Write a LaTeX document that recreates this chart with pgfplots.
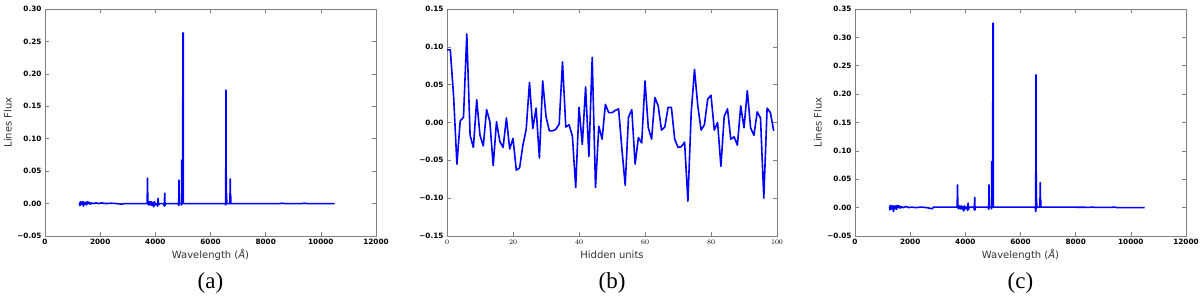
\documentclass[border=0pt]{standalone}
\usepackage{fontspec}
\setmainfont{DejaVu Sans}
\newfontfamily\capfont{Liberation Serif}
\usepackage{pgfplots}
\usepackage{pgfplotstable}
\pgfplotsset{compat=1.18}

\pgfplotsset{
  panel/.style={
    scale only axis, height=227pt,
    clip mode=individual,
    scaled ticks=false,
    axis line style={black!50, line width=0.8pt},
    tick style={black!50, line width=0.6pt},
    major tick length=4pt,
    tick align=inside,
    ticklabel style={font=\fontsize{7.3}{8}\selectfont\bfseries},
    label style={font=\fontsize{10}{12}\selectfont, text=black!80},
    xlabel style={at={(axis description cs:0.5,-0.084)}, anchor=center},
    ylabel style={at={(axis description cs:-0.112,0.5)}, anchor=center},
    every axis plot/.append style={blue, line width=1.6pt, line join=round, no marks},
  },
  spec/.style={
    panel, width=331pt,
    xmin=0, xmax=12000,
    xtick={0,2000,4000,6000,8000,10000,12000},
    xticklabels={0,2000,4000,6000,8000,10000,12000},
    xlabel={Wavelength ({\itshape Å})},
    ylabel={Lines Flux},
  },
}

% panel (a): emission line spectrum
\pgfplotstableread{
x y
1250 0.001
1265 -0.003
1280 0.003
1300 -0.002
1320 0.002
1345 -0.001
1370 0.003
1395 -0.004
1420 0.002
1450 -0.001
1480 0.002
1510 -0.002
1540 0.003
1570 0.000
1600 0.002
1640 -0.001
1680 0.001
1750 0.000
1850 0.001
1950 0.000
2050 0.001
2200 0.000
2400 0.0005
2600 0.000
2800 -0.001
2850 0.000
3300 0.000
3705 0.000
3715 0.039
3730 0.000
3760 -0.002
3790 0.003
3820 -0.002
3850 0.003
3880 -0.003
3910 0.002
3945 -0.005
3970 0.003
4000 -0.002
4050 0.000
4085 -0.004
4100 0.008
4115 -0.002
4150 0.000
4310 0.000
4325 -0.004
4340 0.016
4352 -0.003
4370 0.000
4830 0.000
4848 -0.003
4858 0.036
4870 0.000
4940 0.000
4950 -0.002
4958 0.067
4968 0.000
4992 0.000
4998 0.263
5012 0.263
5018 0.000
6530 0.000
6552 -0.002
6560 0.175
6572 0.000
6580 0.016
6592 0.000
6705 0.000
6714 0.038
6724 0.000
6730 0.015
6740 0.000
7500 0.000
8500 0.000
8600 0.0005
8700 0.000
9300 0.000
9400 0.0005
9500 0.000
10500 0.000
}\specA

% panel (c): emission line spectrum
\pgfplotstableread{
x y
1250 0.002
1265 -0.004
1280 0.004
1300 -0.003
1320 0.003
1345 -0.002
1370 0.003
1395 -0.007
1420 0.003
1450 -0.002
1480 0.003
1510 -0.003
1540 0.004
1570 0.000
1600 0.003
1640 -0.001
1680 0.002
1750 0.000
1850 0.002
1950 0.000
2050 0.001
2200 0.000
2400 0.001
2600 0.000
2800 -0.002
2850 0.001
3300 0.001
3705 0.001
3715 0.040
3730 0.000
3760 -0.002
3790 0.003
3820 -0.002
3850 0.003
3880 -0.003
3910 0.002
3945 -0.006
3970 0.003
4000 -0.002
4050 0.001
4085 -0.005
4100 0.008
4115 -0.003
4150 0.001
4310 0.001
4325 -0.004
4340 0.018
4352 -0.004
4370 0.001
4830 0.001
4848 -0.003
4858 0.040
4870 0.001
4940 0.001
4950 -0.002
4958 0.081
4968 0.001
4992 0.001
4998 0.325
5012 0.325
5018 0.001
6530 0.001
6552 -0.007
6560 0.234
6572 -0.002
6580 0.016
6592 0.001
6705 0.001
6714 0.044
6724 0.001
6730 0.016
6740 0.001
7500 0.001
8500 0.0005
8600 0.001
8700 0.0005
9300 0.0005
9400 0.001
9500 0.000
10500 0.000
}\specC

% panel (b): hidden unit activations
\pgfplotstableread{
x y
0 0.096
1 0.096
2 0.035
3 -0.055
4 0.002
5 0.007
6 0.117
7 -0.017
8 -0.033
9 0.030
10 -0.017
11 -0.031
12 0.017
13 0.001
14 -0.057
15 0.001
16 -0.025
17 -0.033
18 0.006
19 -0.035
20 -0.021
21 -0.063
22 -0.060
23 -0.030
24 -0.009
25 0.053
26 -0.008
27 0.019
28 -0.047
29 0.055
30 0.008
31 -0.011
32 -0.011
33 -0.009
34 -0.002
35 0.080
36 -0.006
37 -0.003
38 -0.018
39 -0.086
40 0.020
41 -0.029
42 0.047
43 -0.045
44 0.086
45 -0.086
46 -0.005
47 -0.022
48 0.024
49 0.013
50 0.013
51 0.016
52 0.018
53 -0.035
54 -0.083
55 0.007
56 0.017
57 -0.055
58 -0.020
59 -0.027
60 0.055
61 -0.007
62 -0.022
63 0.033
64 0.022
65 -0.010
66 -0.006
67 0.020
68 0.020
69 -0.022
70 -0.033
71 -0.032
72 -0.026
73 -0.104
74 0.013
75 0.070
76 0.022
77 -0.010
78 -0.003
79 0.031
80 0.036
81 -0.010
82 0.000
83 -0.058
84 0.008
85 0.018
86 -0.022
87 -0.019
88 -0.030
89 0.022
90 -0.007
91 0.042
92 -0.007
93 -0.017
94 0.014
95 0.006
96 -0.100
97 0.019
98 0.013
99 -0.011
}\hidden

\begin{document}
\begin{tikzpicture}
\path[use as bounding box] (0,0) rectangle (1200pt,299pt);

\begin{axis}[spec, at={(45pt,63pt)}, anchor=south west,
    ymin=-0.05, ymax=0.30,
    ytick={-0.05,0,0.05,0.10,0.15,0.20,0.25,0.30},
    yticklabels={−0.05,0.00,0.05,0.10,0.15,0.20,0.25,0.30}]
  \addplot table {\specA};
  \node[font=\capfont\fontsize{23}{26}\selectfont] at (rel axis cs:0.5,-0.207) {(a)};
\end{axis}

\begin{axis}[panel, width=330pt, at={(447pt,63pt)}, anchor=south west,
    xmin=0, xmax=100, ymin=-0.15, ymax=0.15,
    xtick={0,20,40,60,80,100},
    ytick={-0.15,-0.10,-0.05,0,0.05,0.10,0.15},
    yticklabels={−0.15,−0.10,−0.05,0.00,0.05,0.10,0.15},
    xlabel={Hidden units}]
  \addplot table {\hidden};
  \node[font=\capfont\fontsize{23}{26}\selectfont] at (rel axis cs:0.5,-0.207) {(b)};
\end{axis}

\begin{axis}[spec, at={(855pt,63pt)}, anchor=south west,
    ymin=-0.05, ymax=0.35,
    ytick={-0.05,0,0.05,0.10,0.15,0.20,0.25,0.30,0.35},
    yticklabels={−0.05,0.00,0.05,0.10,0.15,0.20,0.25,0.30,0.35}]
  \addplot table {\specC};
  \node[font=\capfont\fontsize{23}{26}\selectfont] at (rel axis cs:0.5,-0.207) {(c)};
\end{axis}
\end{tikzpicture}
\end{document}
